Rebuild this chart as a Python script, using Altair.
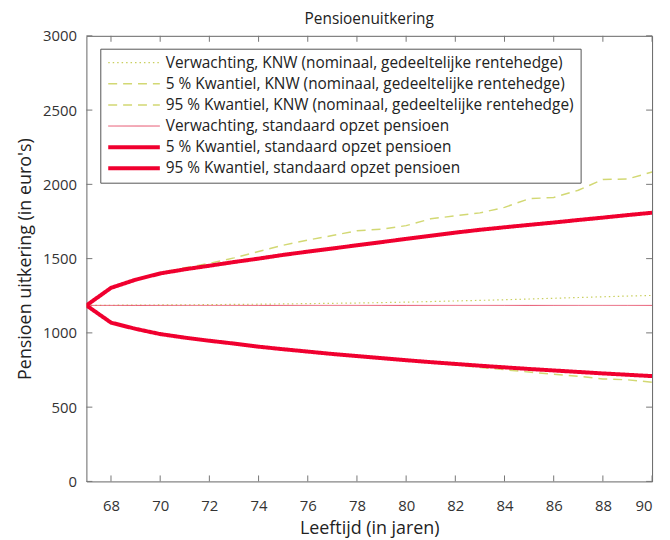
import altair as alt
import pandas as pd

FONT = "Open Sans"

years = list(range(67, 91))

knw_exp = [1185, 1186, 1187, 1188, 1189, 1190, 1192, 1193, 1195, 1197, 1199, 1201,
           1204, 1207, 1211, 1215, 1219, 1223, 1228, 1233, 1238, 1243, 1248, 1252]
knw_p5 = [1185, 1069, 1027, 992, 968, 947, 927, 906, 888, 871, 856, 841,
          827, 814, 800, 784, 767, 752, 736, 722, 708, 690, 684, 668]
knw_p95 = [1185, 1305, 1362, 1405, 1438, 1468, 1505, 1548, 1590, 1625, 1655, 1688,
           1698, 1722, 1768, 1788, 1808, 1845, 1903, 1912, 1960, 2033, 2036, 2083]
std_exp = [1185, 1185, 1185, 1185, 1185, 1185, 1185, 1185, 1185, 1185, 1185, 1185,
           1185, 1185, 1185, 1185, 1185, 1185, 1185, 1185, 1185, 1185, 1185, 1185]
std_p5 = [1185, 1069, 1027, 992, 968, 947, 928, 907, 890, 874, 858, 844,
          830, 816, 803, 791, 779, 768, 757, 747, 737, 727, 718, 709]
std_p95 = [1185, 1303, 1358, 1400, 1428, 1452, 1477, 1500, 1525, 1547, 1568, 1590,
           1611, 1633, 1654, 1675, 1694, 1711, 1727, 1743, 1760, 1776, 1793, 1809]

series_names = [
    "Verwachting, KNW (nominaal, gedeeltelijke rentehedge)",
    "5 % Kwantiel, KNW (nominaal, gedeeltelijke rentehedge)",
    "95 % Kwantiel, KNW (nominaal, gedeeltelijke rentehedge)",
    "Verwachting, standaard opzet pensioen",
    "5 % Kwantiel, standaard opzet pensioen",
    "95 % Kwantiel, standaard opzet pensioen",
]
series_values = [knw_exp, knw_p5, knw_p95, std_exp, std_p5, std_p95]
series_colors = ["#c9cf5e", "#d2d873", "#d2d873", "#e6536d", "#f0002f", "#f0002f"]
series_widths = [1.2, 1.5, 1.5, 1.0, 4.0, 4.0]
series_dashes = [[1.5, 3], [9, 6], [9, 6], [1, 0], [1, 0], [1, 0]]

x_ticks = [68, 70, 72, 74, 76, 78, 80, 82, 84, 86, 88, 90]
y_ticks = [0, 500, 1000, 1500, 2000, 2500, 3000]

W, H = 570, 449

rows = []
for name, vals in zip(series_names, series_values):
    for yr, v in zip(years, vals):
        rows.append({"series": name, "jaar": yr, "waarde": v})
df = pd.DataFrame(rows)

xscale = alt.Scale(domain=[67, 90], nice=False, zero=False)
yscale = alt.Scale(domain=[0, 3000], nice=False)

leg = alt.Legend(orient="none", legendX=14, legendY=13, title=None,
                 symbolType="stroke", symbolSize=2704, labelLimit=1000,
                 labelOffset=4, padding=6, rowPadding=4.3, clipHeight=16,
                 strokeColor="#555555", fillColor="white")

lines = alt.Chart(df).mark_line(clip=True, strokeCap="butt").encode(
    x=alt.X("jaar:Q", scale=xscale,
            axis=alt.Axis(values=x_ticks, title="Leeftijd (in jaren)", ticks=False, format="d",
                          domain=False, grid=False, labelPadding=17, titlePadding=6)),
    y=alt.Y("waarde:Q", scale=yscale,
            axis=alt.Axis(values=y_ticks, title="Pensioen uitkering (in euro's)", ticks=False,
                          format="d", domain=False, grid=False, labelPadding=10, titlePadding=8)),
    color=alt.Color("series:O", sort=series_names,
                    scale=alt.Scale(type="ordinal", domain=series_names, range=series_colors),
                    legend=leg),
    strokeDash=alt.StrokeDash("series:O", sort=series_names,
                              scale=alt.Scale(type="ordinal", domain=series_names, range=series_dashes),
                              legend=leg),
    strokeWidth=alt.StrokeWidth("series:O", sort=series_names,
                                scale=alt.Scale(type="ordinal", domain=series_names, range=series_widths),
                                legend=leg),
    order="jaar:Q",
)

ydf = pd.DataFrame({"v": y_ticks})
xdf = pd.DataFrame({"v": x_ticks})
tick_color = "#777777"
left_t = alt.Chart(ydf).mark_rule(color=tick_color).encode(
    y=alt.Y("v:Q", scale=yscale), x=alt.value(0), x2=alt.value(6))
right_t = alt.Chart(ydf).mark_rule(color=tick_color).encode(
    y=alt.Y("v:Q", scale=yscale), x=alt.value(W - 6), x2=alt.value(W))
bottom_t = alt.Chart(xdf).mark_rule(color=tick_color).encode(
    x=alt.X("v:Q", scale=xscale), y=alt.value(H - 6), y2=alt.value(H))
top_t = alt.Chart(xdf).mark_rule(color=tick_color).encode(
    x=alt.X("v:Q", scale=xscale), y=alt.value(0), y2=alt.value(6))

chart = alt.layer(left_t, right_t, bottom_t, top_t, lines).properties(
    width=W, height=H,
    background="white",
    title=alt.Title("Pensioenuitkering", fontSize=15.5, font=FONT, fontWeight="normal",
                    color="#222222", offset=1),
    autosize=alt.AutoSizeParams(type="none"),
    padding={"left": 79, "top": 26, "right": 10, "bottom": 56},
).configure_view(
    stroke="#666666", strokeWidth=1
).configure_axis(
    labelFont=FONT, titleFont=FONT, labelFontSize=15, titleFontSize=18,
    labelColor="#333333", titleColor="#222222", titleFontWeight="normal"
).configure_legend(
    labelFont=FONT, labelFontSize=15.5, labelColor="#222222", cornerRadius=0
)

chart.save("out.html", embed_options={"renderer": "svg", "actions": False})
